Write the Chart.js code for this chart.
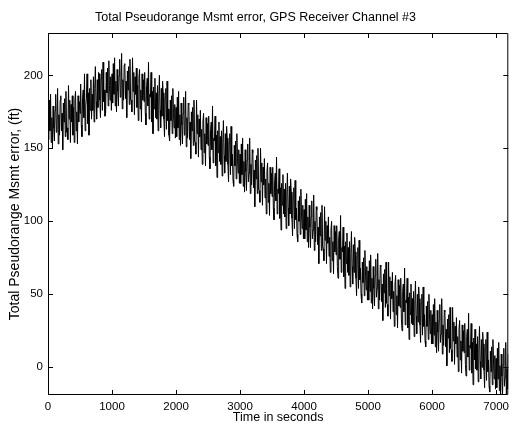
<!DOCTYPE html>
<html>
<head>
<meta charset="utf-8">
<title>Total Pseudorange Msmt error</title>
<script src="https://cdn.jsdelivr.net/npm/chart.js@4.4.1/dist/chart.umd.min.js"></script>
<style>
  html, body { margin: 0; padding: 0; background: #fff; }
  #wrap { width: 514px; height: 423px; }
</style>
</head>
<body>
<div id="wrap"><canvas id="errChart" width="514" height="423"></canvas></div>
<script>
// sample times, 10 s apart (s)
const timeSec = [
  0, 10, 20, 30, 40, 50, 60, 70, 80, 90,
  100, 110, 120, 130, 140, 150, 160, 170, 180, 190,
  200, 210, 220, 230, 240, 250, 260, 270, 280, 290,
  300, 310, 320, 330, 340, 350, 360, 370, 380, 390,
  400, 410, 420, 430, 440, 450, 460, 470, 480, 490,
  500, 510, 520, 530, 540, 550, 560, 570, 580, 590,
  600, 610, 620, 630, 640, 650, 660, 670, 680, 690,
  700, 710, 720, 730, 740, 750, 760, 770, 780, 790,
  800, 810, 820, 830, 840, 850, 860, 870, 880, 890,
  900, 910, 920, 930, 940, 950, 960, 970, 980, 990,
  1000, 1010, 1020, 1030, 1040, 1050, 1060, 1070, 1080, 1090,
  1100, 1110, 1120, 1130, 1140, 1150, 1160, 1170, 1180, 1190,
  1200, 1210, 1220, 1230, 1240, 1250, 1260, 1270, 1280, 1290,
  1300, 1310, 1320, 1330, 1340, 1350, 1360, 1370, 1380, 1390,
  1400, 1410, 1420, 1430, 1440, 1450, 1460, 1470, 1480, 1490,
  1500, 1510, 1520, 1530, 1540, 1550, 1560, 1570, 1580, 1590,
  1600, 1610, 1620, 1630, 1640, 1650, 1660, 1670, 1680, 1690,
  1700, 1710, 1720, 1730, 1740, 1750, 1760, 1770, 1780, 1790,
  1800, 1810, 1820, 1830, 1840, 1850, 1860, 1870, 1880, 1890,
  1900, 1910, 1920, 1930, 1940, 1950, 1960, 1970, 1980, 1990,
  2000, 2010, 2020, 2030, 2040, 2050, 2060, 2070, 2080, 2090,
  2100, 2110, 2120, 2130, 2140, 2150, 2160, 2170, 2180, 2190,
  2200, 2210, 2220, 2230, 2240, 2250, 2260, 2270, 2280, 2290,
  2300, 2310, 2320, 2330, 2340, 2350, 2360, 2370, 2380, 2390,
  2400, 2410, 2420, 2430, 2440, 2450, 2460, 2470, 2480, 2490,
  2500, 2510, 2520, 2530, 2540, 2550, 2560, 2570, 2580, 2590,
  2600, 2610, 2620, 2630, 2640, 2650, 2660, 2670, 2680, 2690,
  2700, 2710, 2720, 2730, 2740, 2750, 2760, 2770, 2780, 2790,
  2800, 2810, 2820, 2830, 2840, 2850, 2860, 2870, 2880, 2890,
  2900, 2910, 2920, 2930, 2940, 2950, 2960, 2970, 2980, 2990,
  3000, 3010, 3020, 3030, 3040, 3050, 3060, 3070, 3080, 3090,
  3100, 3110, 3120, 3130, 3140, 3150, 3160, 3170, 3180, 3190,
  3200, 3210, 3220, 3230, 3240, 3250, 3260, 3270, 3280, 3290,
  3300, 3310, 3320, 3330, 3340, 3350, 3360, 3370, 3380, 3390,
  3400, 3410, 3420, 3430, 3440, 3450, 3460, 3470, 3480, 3490,
  3500, 3510, 3520, 3530, 3540, 3550, 3560, 3570, 3580, 3590,
  3600, 3610, 3620, 3630, 3640, 3650, 3660, 3670, 3680, 3690,
  3700, 3710, 3720, 3730, 3740, 3750, 3760, 3770, 3780, 3790,
  3800, 3810, 3820, 3830, 3840, 3850, 3860, 3870, 3880, 3890,
  3900, 3910, 3920, 3930, 3940, 3950, 3960, 3970, 3980, 3990,
  4000, 4010, 4020, 4030, 4040, 4050, 4060, 4070, 4080, 4090,
  4100, 4110, 4120, 4130, 4140, 4150, 4160, 4170, 4180, 4190,
  4200, 4210, 4220, 4230, 4240, 4250, 4260, 4270, 4280, 4290,
  4300, 4310, 4320, 4330, 4340, 4350, 4360, 4370, 4380, 4390,
  4400, 4410, 4420, 4430, 4440, 4450, 4460, 4470, 4480, 4490,
  4500, 4510, 4520, 4530, 4540, 4550, 4560, 4570, 4580, 4590,
  4600, 4610, 4620, 4630, 4640, 4650, 4660, 4670, 4680, 4690,
  4700, 4710, 4720, 4730, 4740, 4750, 4760, 4770, 4780, 4790,
  4800, 4810, 4820, 4830, 4840, 4850, 4860, 4870, 4880, 4890,
  4900, 4910, 4920, 4930, 4940, 4950, 4960, 4970, 4980, 4990,
  5000, 5010, 5020, 5030, 5040, 5050, 5060, 5070, 5080, 5090,
  5100, 5110, 5120, 5130, 5140, 5150, 5160, 5170, 5180, 5190,
  5200, 5210, 5220, 5230, 5240, 5250, 5260, 5270, 5280, 5290,
  5300, 5310, 5320, 5330, 5340, 5350, 5360, 5370, 5380, 5390,
  5400, 5410, 5420, 5430, 5440, 5450, 5460, 5470, 5480, 5490,
  5500, 5510, 5520, 5530, 5540, 5550, 5560, 5570, 5580, 5590,
  5600, 5610, 5620, 5630, 5640, 5650, 5660, 5670, 5680, 5690,
  5700, 5710, 5720, 5730, 5740, 5750, 5760, 5770, 5780, 5790,
  5800, 5810, 5820, 5830, 5840, 5850, 5860, 5870, 5880, 5890,
  5900, 5910, 5920, 5930, 5940, 5950, 5960, 5970, 5980, 5990,
  6000, 6010, 6020, 6030, 6040, 6050, 6060, 6070, 6080, 6090,
  6100, 6110, 6120, 6130, 6140, 6150, 6160, 6170, 6180, 6190,
  6200, 6210, 6220, 6230, 6240, 6250, 6260, 6270, 6280, 6290,
  6300, 6310, 6320, 6330, 6340, 6350, 6360, 6370, 6380, 6390,
  6400, 6410, 6420, 6430, 6440, 6450, 6460, 6470, 6480, 6490,
  6500, 6510, 6520, 6530, 6540, 6550, 6560, 6570, 6580, 6590,
  6600, 6610, 6620, 6630, 6640, 6650, 6660, 6670, 6680, 6690,
  6700, 6710, 6720, 6730, 6740, 6750, 6760, 6770, 6780, 6790,
  6800, 6810, 6820, 6830, 6840, 6850, 6860, 6870, 6880, 6890,
  6900, 6910, 6920, 6930, 6940, 6950, 6960, 6970, 6980, 6990,
  7000, 7010, 7020, 7030, 7040, 7050, 7060, 7070, 7080, 7090,
  7100, 7110, 7120, 7130, 7140, 7150, 7160, 7170, 7180, 7190
];

const errorFt = [
  176, 156, 183, 162, 187, 154, 171, 150, 179, 164,
  155, 176, 187, 161, 167, 191, 153, 173, 159, 183,
  186, 162, 174, 149, 181, 168, 184, 158, 189, 161,
  164, 156, 193, 170, 183, 154, 180, 168, 186, 159,
  178, 154, 183, 189, 162, 175, 153, 186, 168, 182,
  174, 194, 166, 158, 185, 190, 171, 201, 162, 179,
  184, 201, 167, 188, 159, 191, 176, 197, 170, 187,
  176, 199, 168, 191, 206, 182, 170, 197, 178, 202,
  201, 183, 171, 198, 204, 176, 209, 182, 190, 172,
  174, 202, 188, 205, 179, 210, 193, 183, 199, 176,
  201, 181, 208, 187, 212, 179, 196, 175, 204, 189,
  179, 200, 211, 185, 191, 215, 177, 197, 183, 207,
  208, 184, 196, 171, 203, 190, 206, 180, 211, 183,
  183, 175, 212, 189, 202, 173, 199, 187, 205, 178,
  193, 169, 198, 204, 177, 190, 168, 201, 183, 197,
  182, 202, 174, 166, 193, 198, 179, 209, 170, 187,
  185, 202, 168, 189, 160, 192, 177, 198, 171, 188,
  170, 193, 162, 185, 200, 176, 164, 191, 172, 196,
  188, 170, 158, 185, 191, 163, 196, 169, 177, 159,
  155, 183, 169, 186, 160, 191, 174, 164, 180, 157,
  178, 158, 185, 164, 189, 156, 173, 152, 181, 166,
  153, 174, 185, 159, 165, 189, 151, 171, 157, 181,
  180, 156, 168, 143, 175, 162, 178, 152, 183, 155,
  154, 146, 183, 160, 173, 144, 170, 158, 176, 149,
  163, 139, 168, 174, 147, 160, 138, 171, 153, 167,
  152, 172, 144, 136, 163, 168, 149, 179, 140, 157,
  155, 172, 138, 159, 130, 162, 147, 168, 141, 158,
  139, 162, 131, 154, 169, 145, 133, 160, 141, 165,
  157, 139, 127, 154, 160, 132, 165, 138, 146, 128,
  124, 152, 138, 155, 129, 160, 143, 133, 149, 126,
  146, 126, 153, 132, 157, 124, 141, 120, 149, 134,
  121, 142, 153, 127, 133, 157, 119, 139, 125, 149,
  147, 123, 135, 110, 142, 129, 145, 119, 150, 122,
  121, 113, 150, 127, 140, 111, 137, 125, 143, 116,
  129, 105, 134, 140, 113, 126, 104, 137, 119, 133,
  117, 137, 109, 101, 128, 133, 114, 144, 105, 122,
  119, 136, 102, 123, 94, 126, 111, 132, 105, 122,
  103, 126, 95, 118, 133, 109, 97, 124, 105, 129,
  120, 102, 90, 117, 123, 95, 128, 101, 109, 91,
  86, 114, 100, 117, 91, 122, 105, 95, 111, 88,
  108, 88, 115, 94, 119, 86, 103, 82, 111, 96,
  82, 103, 114, 88, 94, 118, 80, 100, 86, 110,
  108, 84, 96, 71, 103, 90, 106, 80, 111, 83,
  81, 73, 110, 87, 100, 71, 97, 85, 103, 76,
  89, 65, 94, 100, 73, 86, 64, 97, 79, 93,
  77, 97, 69, 61, 88, 93, 74, 104, 65, 82,
  79, 96, 62, 83, 54, 86, 71, 92, 65, 82,
  63, 86, 55, 78, 93, 69, 57, 84, 65, 89,
  79, 61, 49, 76, 82, 54, 87, 60, 68, 50,
  44, 72, 58, 75, 49, 80, 63, 53, 69, 46,
  66, 46, 73, 52, 77, 44, 61, 40, 69, 54,
  42, 63, 74, 48, 54, 78, 40, 60, 46, 70,
  69, 45, 57, 32, 64, 51, 67, 41, 72, 44,
  43, 35, 72, 49, 62, 33, 59, 47, 65, 38,
  52, 28, 57, 63, 36, 49, 27, 60, 42, 56,
  41, 61, 33, 25, 52, 57, 38, 68, 29, 46,
  44, 61, 27, 48, 19, 51, 36, 57, 30, 47,
  29, 52, 21, 44, 59, 35, 23, 50, 31, 55,
  47, 29, 17, 44, 50, 22, 55, 28, 36, 18,
  14, 42, 28, 45, 19, 50, 33, 23, 39, 16,
  36, 16, 43, 22, 47, 14, 31, 10, 39, 24,
  11, 32, 43, 17, 23, 47, 9, 29, 15, 39,
  38, 14, 26, 1, 33, 20, 36, 10, 41, 13,
  12, 4, 41, 18, 31, 2, 28, 16, 34, 7,
  21, -3, 26, 32, 5, 18, -4, 29, 11, 25,
  10, 30, 2, -6, 21, 26, 7, 37, -2, 15,
  13, 30, -4, 17, -12, 20, 5, 26, -1, 16,
  -2, 21, -10, 13, 28, 4, -8, 19, 0, 24,
  16, -2, -14, 13, 19, -9, 24, -3, 5, -13,
  -17, 11, -3, 14, -12, 19, 2, -8, 8, -15,
  6, -14, 13, -8, 17, -16, 1, -20, 9, -6,
  -19, 2, 13, -13, -7, 17, -21, -1, -15, 9
];

const xTicks = [0, 1000, 2000, 3000, 4000, 5000, 6000, 7000];
const yTicks = [0, 50, 100, 150, 200];

const family = '"Liberation Sans", Arial, Helvetica, sans-serif';
const tickFont = { family, size: 11.5 };
const labelFont = { family, size: 12.5 };

// matlab style box with inward ticks on all four sides
const boxTicks = {
  id: 'boxTicks',
  afterDraw(chart) {
    const { ctx, chartArea: a, scales } = chart;
    const len = 5;
    ctx.save();
    ctx.strokeStyle = '#000';
    ctx.lineWidth = 1;
    ctx.beginPath();
    ctx.rect(a.left + 0.5, a.top + 0.5, a.right - a.left - 1, a.bottom - a.top - 1);
    xTicks.forEach(v => {
      const px = Math.round(scales.x.getPixelForValue(v)) + 0.5;
      ctx.moveTo(px, a.bottom);
      ctx.lineTo(px, a.bottom - len);
      ctx.moveTo(px, a.top);
      ctx.lineTo(px, a.top + len);
    });
    yTicks.forEach(v => {
      const py = Math.round(scales.y.getPixelForValue(v)) + 0.5;
      ctx.moveTo(a.left, py);
      ctx.lineTo(a.left + len, py);
      ctx.moveTo(a.right, py);
      ctx.lineTo(a.right - len, py);
    });
    ctx.stroke();
    ctx.restore();
  }
};

new Chart(document.getElementById('errChart'), {
  type: 'line',
  data: {
    datasets: [{
      data: timeSec.map((t, i) => ({ x: t, y: errorFt[i] })),
      borderColor: '#000',
      borderWidth: 1,
      pointRadius: 0,
      tension: 0,
      fill: false
    }]
  },
  options: {
    responsive: false,
    animation: false,
    layout: { padding: { left: 0, right: 3, top: 0, bottom: 0 } },
    plugins: {
      legend: { display: false },
      tooltip: { enabled: false },
      title: {
        display: true,
        text: 'Total Pseudorange Msmt error, GPS Receiver Channel #3',
        color: '#000',
        font: { ...labelFont, weight: 'normal' },
        padding: { top: 10.5, bottom: 7.5 }
      }
    },
    scales: {
      x: {
        type: 'linear',
        min: 0,
        max: 7190,
        grid: { display: false, drawTicks: false },
        border: { display: false },
        afterBuildTicks(s) { s.ticks = xTicks.map(v => ({ value: v })); },
        ticks: { color: '#000', font: tickFont, padding: 5, maxRotation: 0, autoSkip: false, callback: v => String(v) },
        title: { display: true, text: 'Time in seconds', color: '#000', font: labelFont, padding: { top: 0, bottom: -2.5 } },
        afterFit(s) { s.height = 28; }
      },
      y: {
        min: -19,
        max: 229,
        grid: { display: false, drawTicks: false },
        border: { display: false },
        afterBuildTicks(s) { s.ticks = yTicks.map(v => ({ value: v })); },
        ticks: { color: '#000', font: tickFont, padding: 5, autoSkip: false, callback: v => String(v) },
        title: { display: true, text: 'Total Pseudorange Msmt error, (ft)', color: '#000', font: { family, size: 14 }, padding: { top: 7, bottom: 0 } },
        afterFit(s) { s.width = 48; }
      }
    }
  },
  plugins: [boxTicks]
});
</script>
</body>
</html>
